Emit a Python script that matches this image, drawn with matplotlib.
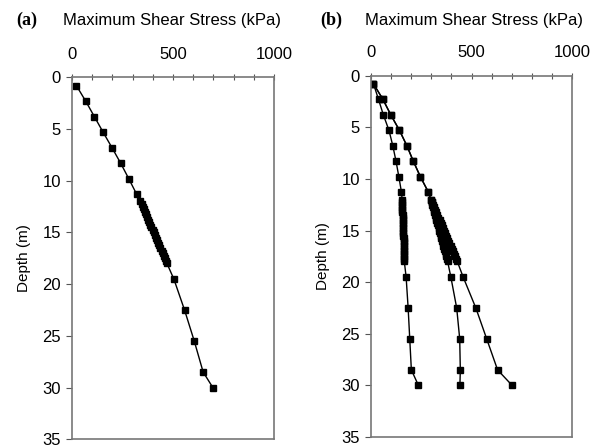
import matplotlib.pyplot as plt
from matplotlib.ticker import MultipleLocator

plt.rcParams['font.family'] = ['Liberation Sans', 'DejaVu Sans']

# depths (m) of the nodes, shallow part / dense layer / deep part
depth_top = [0.8, 2.3, 3.8, 5.3, 6.8, 8.3, 9.8, 11.3]
depth_mid = [12.0, 12.25, 12.5, 12.75, 13.0, 13.25, 13.5, 13.75, 14.0, 14.25, 14.5, 14.75,
             15.0, 15.25, 15.5, 15.75, 16.0, 16.25, 16.5, 16.75, 17.0, 17.25, 17.5, 17.75, 18.0]
depth_bot = [19.5, 22.5, 25.5, 28.5, 30.0]
depth = depth_top + depth_mid + depth_bot

# (a) max shear stress (kPa)
stress_a = ([22, 68, 111, 154, 198, 241, 281, 320] +
            [338, 344, 349, 355, 360, 366, 371, 377, 382, 388, 393, 399,
             404, 410, 415, 421, 426, 432, 437, 443, 448, 454, 459, 465, 470] +
            [504, 557, 605, 649, 697])

# (b) three cases
stress_b1 = ([13, 38, 62, 90, 109, 125, 139, 152] +
             [155, 155, 156, 156, 157, 157, 158, 158, 159, 159, 160, 160,
              160, 161, 161, 162, 162, 163, 163, 164, 164, 165, 165, 166, 166] +
             [175, 185, 193, 201, 236])
stress_b2 = ([13, 60, 99, 142, 179, 211, 246, 286] +
             [297, 301, 304, 308, 311, 315, 318, 322, 325, 329, 332, 336,
              339, 343, 346, 350, 353, 357, 360, 364, 367, 371, 374, 378, 381] +
             [397, 426, 441, 444, 442])
stress_b3 = ([13, 60, 99, 142, 179, 211, 246, 286] +
             [297, 302, 308, 313, 319, 324, 330, 335, 341, 346, 352, 357,
              363, 368, 374, 379, 385, 390, 396, 401, 407, 412, 418, 423, 429] +
             [458, 521, 575, 629, 701])

fig = plt.figure(figsize=(6.05, 4.45), dpi=100)
ax_a = fig.add_axes([0.119, 0.013, 0.334, 0.813])
ax_b = fig.add_axes([0.613, 0.018, 0.333, 0.812])


def style(ax, tag, x0):
    ax.set_xlim(0, 1000)
    ax.set_ylim(35, 0)
    ax.xaxis.tick_top()
    ax.xaxis.set_major_locator(MultipleLocator(500))
    ax.xaxis.set_minor_locator(MultipleLocator(100))
    ax.yaxis.set_major_locator(MultipleLocator(5))
    ax.tick_params(axis='x', which='both', direction='inout', length=4, width=0.8,
                   colors='#555555', labelcolor='black', labelsize=12, pad=9)
    ax.tick_params(axis='y', direction='out', length=4, width=0.8,
                   colors='#555555', labelcolor='black', labelsize=12, pad=4)
    for s in ax.spines.values():
        s.set_color('#777777')
        s.set_linewidth(1.2)
    ax.set_ylabel('Depth (m)', fontsize=11, labelpad=8)
    fig.text(x0, 0.955, tag, fontsize=13, fontweight='bold', family='Liberation Serif',
             ha='left', va='center')


style(ax_a, '(a)', 0.027)
style(ax_b, '(b)', 0.530)
fig.text(0.285, 0.955, 'Maximum Shear Stress (kPa)', fontsize=12, ha='center', va='center')
fig.text(0.783, 0.955, 'Maximum Shear Stress (kPa)', fontsize=12, ha='center', va='center')

kw = dict(color='black', lw=1, marker='s', ms=4.5, mec='black', mfc='black')
ax_a.plot(stress_a, depth, **kw)
ax_b.plot(stress_b1, depth, **kw)
ax_b.plot(stress_b2, depth, **kw)
ax_b.plot(stress_b3, depth, **kw)

fig.savefig('out.png', dpi=100)
